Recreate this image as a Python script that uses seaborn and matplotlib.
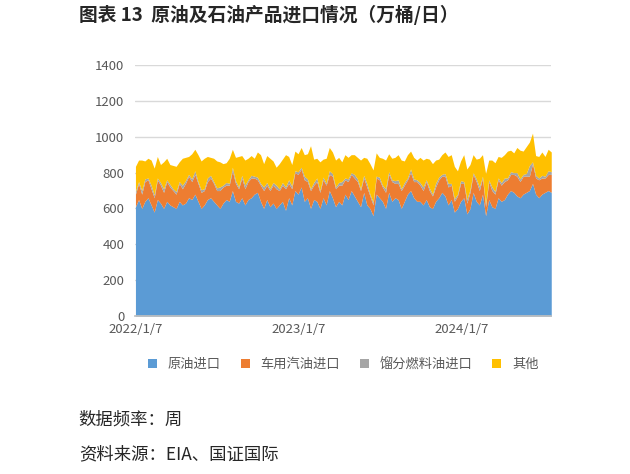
import matplotlib
matplotlib.use("Agg")
import matplotlib.pyplot as plt
import seaborn as sns
import pandas as pd
import numpy as np

sns.set_theme(style="white")
plt.rcParams['font.family'] = ['Noto Sans CJK SC', 'DejaVu Sans']

crude = [610,650,600,640,660,620,580,650,630,600,640,620,610,
         600,640,620,630,660,650,680,640,600,620,650,660,640,
         620,600,630,650,640,700,640,630,660,620,650,660,680,
         690,640,600,650,610,630,600,620,640,590,660,620,700,
         680,720,640,660,600,650,640,600,660,620,700,660,610,
         640,620,680,650,700,670,640,610,690,620,600,560,680,
         660,640,600,690,640,660,650,600,640,680,700,660,640,
         640,620,650,610,600,640,660,690,670,620,650,580,600,
         640,660,570,600,690,640,620,680,560,650,610,600,660,
         640,650,680,700,690,670,660,680,690,700,740,680,660,
         680,690,700,690]
gas = [70,90,80,110,100,90,80,110,100,90,110,100,90,
       80,100,90,110,120,100,110,100,90,80,100,110,100,
       80,100,90,80,90,110,100,80,110,90,100,110,90,
       70,90,100,80,90,100,110,80,90,120,80,90,100,
       110,100,120,90,100,80,110,90,100,110,90,120,100,
       90,110,80,100,90,100,110,90,80,100,70,60,90,
       100,80,90,100,110,80,90,100,90,80,100,90,110,
       90,80,100,90,70,80,100,90,110,100,80,60,70,
       100,80,60,90,100,110,80,90,50,100,90,80,100,
       90,100,80,90,100,110,90,100,90,80,110,90,100,
       90,80,90,100]
dist = [15,10,20,15,10,20,15,10,15,20,10,15,10,
        15,10,20,15,10,15,20,10,15,10,20,15,10,
        15,20,10,15,10,20,15,10,15,20,10,15,10,
        15,10,20,15,10,15,20,10,15,10,20,15,10,
        15,10,20,15,10,15,20,10,15,10,20,15,10,
        15,20,10,15,10,20,15,10,15,20,10,15,10,
        15,10,20,15,10,15,20,10,15,10,20,15,10,
        15,20,10,15,10,20,15,10,15,20,10,15,10,
        15,10,20,15,10,15,20,10,15,10,20,15,10,
        15,20,10,15,10,20,15,10,15,60,10,15,10,
        15,10,20,15]
other = [140,120,170,100,110,140,150,120,100,150,120,110,130,
         140,110,150,130,100,140,120,150,160,170,120,100,130,
         150,140,120,110,140,100,130,170,110,140,120,110,100,
         140,160,130,150,170,120,100,140,130,180,130,120,110,
         100,110,120,140,240,130,110,160,100,140,130,120,150,
         140,110,130,120,100,110,120,160,100,140,170,180,130,
         110,150,160,100,120,130,140,160,120,130,100,120,110,
         140,150,120,160,170,130,100,110,120,150,160,180,130,
         110,150,170,140,100,110,160,120,170,110,150,160,120,
         140,130,150,120,110,140,160,130,150,130,160,110,120,
         130,110,120,110]

dates = pd.date_range("2022-01-07", periods=len(crude), freq="7D")
df = pd.DataFrame({"date": dates, "原油进口": crude, "车用汽油进口": gas,
                   "馏分燃料油进口": dist, "其他": other})

fig = plt.figure(figsize=(6.3, 4.74), dpi=100)
ax = fig.add_axes([0.215, 0.333, 0.66, 0.53])
colors = ["#5B9BD5", "#ED7D31", "#A5A5A5", "#FFC000"]
cols = ["原油进口", "车用汽油进口", "馏分燃料油进口", "其他"]
ax.stackplot(df["date"], *[df[c] for c in cols], colors=colors, labels=cols, linewidth=0)
ax.set_ylim(0, 1400)
ax.set_yticks(range(0, 1401, 200))
ax.set_xlim(dates[0], dates[-1])
ax.set_xticks(pd.to_datetime(["2022-01-07", "2023-01-07", "2024-01-07"]))
ax.set_xticklabels(["2022/1/7", "2023/1/7", "2024/1/7"])
ax.yaxis.grid(True, color="#D9D9D9", lw=1)
ax.tick_params(labelsize=9.5, colors="#595959", length=0)
ax.tick_params(axis="y", pad=8)
ax.tick_params(axis="x", pad=5)
for s in ["top", "right", "left"]:
    ax.spines[s].set_visible(False)
ax.spines["bottom"].set_color("#BFBFBF")
ax.legend(loc="upper center", bbox_to_anchor=(0.5, -0.12), ncol=4, frameon=False,
          fontsize=9.5, handlelength=0.7, handleheight=0.7, columnspacing=1.5,
          labelcolor="#595959")
fig.text(0.125, 0.955, "图表 13  原油及石油产品进口情况（万桶/日）", fontsize=13.5, fontweight="bold")
fig.text(0.125, 0.105, "数据频率：周", fontsize=12.5)
fig.text(0.125, 0.03, "资料来源：EIA、国证国际", fontsize=12.5)
fig.savefig("out.png", dpi=100)
